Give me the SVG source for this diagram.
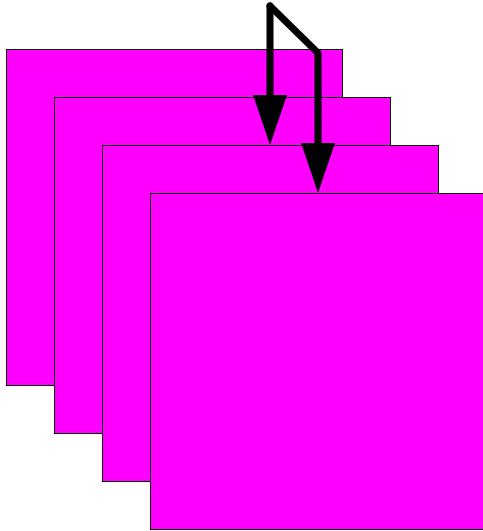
<svg xmlns="http://www.w3.org/2000/svg" width="483" height="531" viewBox="0 0 483 531">
<style>
.page{fill:#ff00ff;stroke:#000;stroke-width:1}
.conn{fill:none;stroke:#000;stroke-width:7;stroke-linejoin:round;stroke-linecap:round}
.head{fill:#000;stroke:none}
</style>
<rect width="483" height="531" fill="#fff"/>
<g id="page1"><rect class="page" x="6.5" y="49.5" width="336" height="336"/></g>
<g id="page2"><rect class="page" x="54.5" y="97.5" width="336" height="336"/></g>
<g id="page3"><rect class="page" x="102.5" y="145.5" width="336" height="336"/></g>
<g id="page4"><rect class="page" x="150.5" y="193.5" width="336" height="336"/></g>
<g id="connectors">
<path class="conn" d="M270,6 L270,98"/>
<polygon class="head" points="253,95 287,95 270,145"/>
<path class="conn" d="M270,6 L318,53 L318,146"/>
<polygon class="head" points="301,143 335,143 318,193"/>
</g>
</svg>
